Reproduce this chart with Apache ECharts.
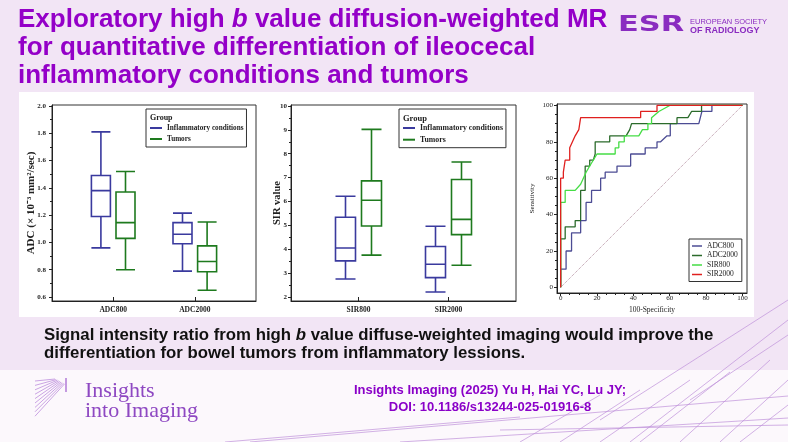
<!DOCTYPE html>
<html>
<head>
<meta charset="utf-8">
<script src="https://cdn.jsdelivr.net/npm/echarts@6/dist/echarts.min.js"></script>
<style>
  html, body { margin: 0; padding: 0; background: #f2e5f5; }
  #main { width: 788px; height: 442px; }
</style>
</head>
<body>
<div id="main"></div>
<script>
// box plots: [min, Q1, median, Q3, max]
const adcGroups = ['ADC800', 'ADC2000']
const adcInflammatory = [
  [0.96, 1.19, 1.38, 1.49, 1.81],
  [0.79, 0.99, 1.06, 1.145, 1.215]
]
const adcTumors = [
  [0.80, 1.03, 1.145, 1.37, 1.52],
  [0.65, 0.785, 0.86, 0.975, 1.15]
]
const adcTicks = [0.6, 0.8, 1.0, 1.2, 1.4, 1.6, 1.8, 2.0]

const sirGroups = ['SIR800', 'SIR2000']
const sirInflammatory = [
  [2.75, 3.51, 4.05, 5.34, 6.22],
  [2.21, 2.81, 3.37, 4.11, 4.96]
]
const sirTumors = [
  [3.75, 4.97, 6.05, 6.86, 9.02],
  [3.33, 4.61, 5.25, 6.92, 7.65]
]
const sirTicks = [2, 3, 4, 5, 6, 7, 8, 9, 10]

// ROC curves: [100-Specificity, Sensitivity]
const rocAdc800 = [[0, 0], [0, 10], [3, 10], [3, 20], [6, 20], [6, 30], [11, 30], [11, 36.7], [14, 36.7], [14, 46.7],
  [17, 46.7], [17, 53.3], [22, 53.3], [22, 60], [24.5, 60], [24.5, 63.3], [31, 63.3], [31, 66.7], [38.5, 66.7],
  [38.5, 73.3], [46.5, 73.3], [46.5, 76.7], [53, 76.7], [53, 80], [55, 80], [58.5, 83.3], [60.3, 83.3], [60.3, 90],
  [76, 90], [77.7, 96.7], [83.2, 96.7], [83.2, 100], [100, 100]]
const rocAdc2000 = [[0, 0], [0, 26.7], [2.5, 26.7], [2.5, 33.3], [8, 33.3], [8, 36.7], [11, 36.7], [11, 53.3],
  [13.5, 53.3], [13.5, 66.7], [16, 66.7], [16, 70], [18, 70], [19, 73.3], [19, 80], [27, 80], [27, 83.3], [36, 83.3],
  [38, 86.7], [39, 90], [64, 90], [64, 93.3], [70, 93.3], [72, 96.7], [77.5, 96.7], [77.5, 100], [100, 100]]
const rocSir800 = [[0, 0], [0, 46.7], [2.5, 46.7], [2.5, 53.3], [8, 53.3], [11, 56.7], [14, 63.3], [16, 66.7],
  [18, 70], [20, 73.3], [30, 73.3], [30, 76.7], [32, 76.7], [32, 80], [35, 80], [35, 83.3], [43, 83.3], [45, 86.7],
  [48, 86.7], [48, 90], [50, 90], [50, 93.3], [54, 96.7], [60, 100], [100, 100]]
const rocSir2000 = [[0, 0], [0, 60], [1.5, 60], [1.5, 63.3], [2.5, 63.3], [2.5, 70], [5, 70], [5, 76.7], [6.5, 80],
  [8, 83.3], [10, 86.7], [11, 86.7], [11, 93.3], [44, 93.3], [44, 96.7], [53, 96.7], [53, 100], [100, 100]]
const rocReference = [[0, 0], [100, 100]]
const rocTicks = [0, 20, 40, 60, 80, 100]

const BLUE = '#3a3a9e'
const GREEN = '#1e7a1e'
const PURPLE = '#9400c8'
const SERIF = 'Liberation Serif'
const SANS = 'Liberation Sans'

const grids = [
  { left: 52, top: 105, width: 204, height: 196 },
  { left: 291, top: 105, width: 225, height: 196 },
  { left: 557, top: 104, width: 190, height: 189 }
]
// box layout per box chart: px shift of each group's two boxes, box width
const boxShift = [12.3, 13]
const boxWidth = [19, 20]
const groupFrac = [0.3, 0.7]

function steps(from, to, step) {
  const out = []
  for (let v = from; v <= to + 1e-9; v += step) out.push(+v.toFixed(3))
  return out
}

function nearest(list, v) {
  let best = 0
  list.forEach((p, i) => { if (Math.abs(p - v) < Math.abs(list[best] - v)) best = i })
  return best
}

function boxXAxis(gridIndex, names) {
  return {
    type: 'value', gridIndex, min: 0, max: 1,
    splitLine: { show: false },
    axisLine: { show: true, onZero: false, lineStyle: { color: '#222' } },
    axisTick: { show: true, inside: true, length: 4, customValues: groupFrac, lineStyle: { color: '#222' } },
    axisLabel: {
      customValues: groupFrac, margin: 5, formatter: v => names[nearest(groupFrac, v)],
      fontFamily: SERIF, fontWeight: 'bold', fontSize: 7.5, color: '#222'
    }
  }
}

// hidden x axis, same scale as the visible one but moved sideways by px
function shiftedXAxis(gridIndex, px) {
  const d = px / grids[gridIndex].width
  return { type: 'value', gridIndex, min: d, max: 1 + d, show: false, axisLine: { onZero: false } }
}

function mainYAxis(gridIndex, min, max, ticks, fmt, label, name, nameGap, nameStyle) {
  return {
    type: 'value', gridIndex, min, max, position: 'left',
    splitLine: { show: false },
    axisLine: { show: true, onZero: false, lineStyle: { color: '#222' } },
    axisTick: { show: true, length: 3, customValues: ticks, lineStyle: { color: '#222' } },
    axisLabel: Object.assign({ customValues: ticks, formatter: fmt, color: '#222', fontFamily: SERIF }, label),
    name, nameLocation: 'middle', nameGap, nameMoveOverlap: false,
    nameTextStyle: Object.assign({ color: '#222', fontFamily: SERIF }, nameStyle)
  }
}

function minorAxis(gridIndex, min, max, values, position) {
  return {
    type: 'value', gridIndex, min, max, position,
    axisLine: { show: false, onZero: false }, splitLine: { show: false }, axisLabel: { show: false },
    axisTick: { show: true, length: 2, customValues: values, lineStyle: { color: '#222' } }
  }
}

function boxSeries(name, gridIndex, xAxisIndex, values, color) {
  const w = boxWidth[gridIndex]
  return {
    type: 'boxplot', name, xAxisIndex, yAxisIndex: gridIndex,
    boxWidth: [w, w],
    data: values.map((d, i) => [groupFrac[i]].concat(d)),
    itemStyle: { color: 'transparent', borderColor: color, borderWidth: 1.6 },
    silent: true
  }
}

function rocSeries(name, data, color, width) {
  return {
    type: 'line', name, data, xAxisIndex: 2, yAxisIndex: 2,
    showSymbol: false, symbol: 'none', silent: true,
    itemStyle: { color },
    lineStyle: { color, width }
  }
}

function boxLegend(left, top, fontSize, gap) {
  return {
    left, top, orient: 'vertical', icon: 'rect', itemWidth: 12, itemHeight: 2, itemGap: gap,
    padding: [14, 3, 3, 4], borderColor: '#333', borderWidth: 1, backgroundColor: '#fff',
    selectedMode: false,
    textStyle: { fontFamily: SERIF, fontWeight: 'bold', fontSize, color: '#222', lineHeight: 10 },
    data: [
      { name: 'Inflammatory conditions', itemStyle: { color: BLUE, borderWidth: 0 } },
      { name: 'Tumors', itemStyle: { color: GREEN, borderWidth: 0 } }
    ]
  }
}

function txt(x, y, text, size, color, weight, family, align, scaleX) {
  return {
    type: 'text', x, y, z: 10, scaleX: scaleX || 1,
    style: {
      text, fill: color, fontSize: size, fontWeight: weight || 'normal', fontFamily: family || SANS,
      align: align || 'left', textAlign: align || 'left', verticalAlign: 'middle', textVerticalAlign: 'middle'
    }
  }
}

function ln(x1, y1, x2, y2, color, w) {
  return { type: 'line', z: -5, shape: { x1, y1, x2, y2 }, style: { stroke: color, lineWidth: w || 1 } }
}

const decor = [
  [225, 442, 520, 417], [250, 442, 788, 396], [400, 442, 788, 418], [520, 442, 600, 395],
  [560, 442, 640, 390], [600, 442, 690, 380], [640, 442, 730, 372], [680, 442, 770, 360],
  [720, 442, 788, 380], [600, 420, 788, 300], [630, 442, 788, 320], [690, 400, 788, 335],
  [740, 442, 788, 405], [500, 430, 788, 425]
].map(d => ln(d[0], d[1], d[2], d[3], '#bf90da', 0.7))

const insightsIcon = steps(0, 8, 1).map(i => ln(35, 381 + i * 4.4, 55 + i * 1.2, 379 + i * 0.6, '#c49ae0', 0.9))

const chart = echarts.init(document.getElementById('main'))
chart.setOption({
  animation: false,
  backgroundColor: 'transparent',
  title: [
    {
      left: 18, top: 6, padding: 0,
      text: '{t|Exploratory high }{i|b}{t| value diffusion-weighted MR}\n{t|for quantitative differentiation of ileocecal}\n{t|inflammatory conditions and tumors}',
      textStyle: {
        rich: {
          t: { fontFamily: SANS, fontWeight: 'bold', fontSize: 26, color: PURPLE, lineHeight: 28 },
          i: { fontFamily: SANS, fontWeight: 'bold', fontStyle: 'italic', fontSize: 26, color: PURPLE, lineHeight: 28 }
        }
      }
    },
    {
      left: 44, top: 326, padding: 0,
      text: '{t|Signal intensity ratio from high }{i|b}{t| value diffuse-weighted imaging would improve the}\n{t|differentiation for bowel tumors from inflammatory lessions.}',
      textStyle: {
        rich: {
          t: { fontFamily: SANS, fontWeight: 'bold', fontSize: 16.8, color: '#111', lineHeight: 18 },
          i: { fontFamily: SANS, fontWeight: 'bold', fontStyle: 'italic', fontSize: 16.8, color: '#111', lineHeight: 18 }
        }
      }
    }
  ],
  grid: grids.map(g => Object.assign({ show: true, borderColor: '#333', borderWidth: 1, backgroundColor: 'transparent' }, g)),
  legend: [
    boxLegend(146, 109, 7.2, 1),
    boxLegend(399, 109, 7.8, 1.7),
    {
      left: 689, top: 239, orient: 'vertical', icon: 'rect', itemWidth: 10, itemHeight: 1.5, itemGap: 1.5,
      padding: [3, 4, 3, 3], borderColor: '#333', borderWidth: 1, backgroundColor: '#fff', selectedMode: false,
      textStyle: { fontFamily: SERIF, fontSize: 7.5, color: '#222', lineHeight: 8 },
      data: ['ADC800', 'ADC2000', 'SIR800', 'SIR2000']
    }
  ],
  xAxis: [
    boxXAxis(0, adcGroups),
    boxXAxis(1, sirGroups),
    {
      type: 'value', gridIndex: 2, min: -2, max: 102.5,
      splitLine: { show: false },
      axisLine: { show: true, onZero: false, lineStyle: { color: '#222' } },
      axisTick: { show: true, length: 3, customValues: rocTicks, lineStyle: { color: '#222' } },
      axisLabel: { customValues: rocTicks, margin: 2, fontFamily: SERIF, fontSize: 7, color: '#222' },
      name: '100-Specificity', nameLocation: 'middle', nameGap: 13, nameMoveOverlap: false,
      nameTextStyle: { fontFamily: SERIF, fontSize: 7.5, color: '#222' }
    },
    minorAxis(2, -2, 102.5, steps(0, 100, 5), 'bottom'),
    shiftedXAxis(0, boxShift[0]),
    shiftedXAxis(0, -boxShift[0]),
    shiftedXAxis(1, boxShift[1]),
    shiftedXAxis(1, -boxShift[1])
  ],
  yAxis: [
    mainYAxis(0, 0.571, 2.007, adcTicks, v => v.toFixed(1), { fontSize: 7, fontWeight: 'bold', margin: 6 },
      'ADC (× 10⁻³ mm²/sec)', 15, { fontSize: 11, fontWeight: 'bold' }),
    mainYAxis(1, 1.83, 10.04, sirTicks, v => String(Math.round(v)), { fontSize: 7, fontWeight: 'bold', margin: 4 },
      'SIR value', 8, { fontSize: 10.5, fontWeight: 'bold' }),
    mainYAxis(2, -3.1, 100.8, rocTicks, v => String(Math.round(v)), { fontSize: 7, margin: 4 },
      'Sensitivity', 21, { fontSize: 7 }),
    minorAxis(0, 0.571, 2.007, steps(0.7, 1.9, 0.2), 'left'),
    minorAxis(1, 1.83, 10.04, steps(2.5, 9.5, 1), 'left'),
    minorAxis(2, -3.1, 100.8, steps(0, 100, 5), 'left')
  ],
  series: [
    boxSeries('Inflammatory conditions', 0, 4, adcInflammatory, BLUE),
    boxSeries('Tumors', 0, 5, adcTumors, GREEN),
    boxSeries('Inflammatory conditions', 1, 6, sirInflammatory, BLUE),
    boxSeries('Tumors', 1, 7, sirTumors, GREEN),
    {
      type: 'line', name: 'reference', data: rocReference, xAxisIndex: 2, yAxisIndex: 2,
      showSymbol: false, symbol: 'none', silent: true,
      lineStyle: { color: '#b48fa0', width: 1, type: 'dotted' }
    },
    rocSeries('ADC800', rocAdc800, '#4c4c94', 1.3),
    rocSeries('ADC2000', rocAdc2000, '#2b6b2b', 1.3),
    rocSeries('SIR800', rocSir800, '#45dd45', 1.3),
    rocSeries('SIR2000', rocSir2000, '#e0201f', 1.3)
  ],
  graphic: [
    { type: 'rect', z: -20, shape: { x: 0, y: 370, width: 788, height: 72 }, style: { fill: '#fcf8fc' } },
    { type: 'rect', z: -10, shape: { x: 19, y: 92, width: 735, height: 225 }, style: { fill: '#ffffff' } },
    txt(150, 118, 'Group', 8, '#222', 'bold', SERIF),
    txt(403, 118.5, 'Group', 8.5, '#222', 'bold', SERIF),
    txt(618, 26, 'ESR', 21, '#8a2cc0', 'bold', 'DejaVu Sans', 'left', 1.45),
    txt(690, 22, 'EUROPEAN SOCIETY', 7.5, '#8a2cc0', 'normal', SANS),
    txt(690, 31, 'OF RADIOLOGY', 9, '#8a2cc0', 'bold', SANS),
    txt(85, 391, 'Insights', 22, '#8e48c2', 'normal', SERIF),
    txt(85, 411, 'into Imaging', 22, '#8e48c2', 'normal', SERIF),
    ln(66, 378, 66, 392, '#c49ae0', 2),
    txt(490, 390, 'Insights Imaging (2025) Yu H, Hai YC, Lu JY;', 13, '#8a00c8', 'bold', SANS, 'center'),
    txt(490, 407, 'DOI: 10.1186/s13244-025-01916-8', 13, '#8a00c8', 'bold', SANS, 'center')
  ].concat(decor, insightsIcon)
})
</script>
</body>
</html>
